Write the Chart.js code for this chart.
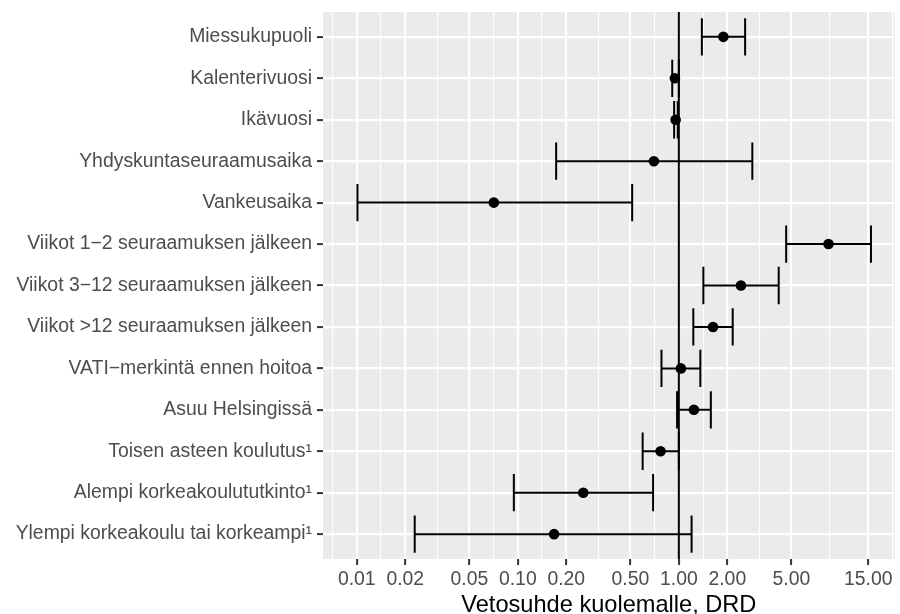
<!DOCTYPE html>
<html>
<head>
<meta charset="utf-8">
<script src="https://cdn.jsdelivr.net/npm/chart.js@4.4.1/dist/chart.umd.min.js"></script>
<style>
  html, body { margin: 0; padding: 0; background: #fff; }
  #wrap { width: 900px; height: 614px; }
</style>
</head>
<body>
<div id="wrap"><canvas id="forest" width="900" height="614"></canvas></div>
<script>
// categories, top to bottom
const labels = [
  "Miessukupuoli",
  "Kalenterivuosi",
  "Ikävuosi",
  "Yhdyskuntaseuraamusaika",
  "Vankeusaika",
  "Viikot 1\u22122 seuraamuksen jälkeen",
  "Viikot 3\u221212 seuraamuksen jälkeen",
  "Viikot >12 seuraamuksen jälkeen",
  "VATI\u2212merkintä ennen hoitoa",
  "Asuu Helsingissä",
  "Toisen asteen koulutus\u00B9",
  "Alempi korkeakoulututkinto\u00B9",
  "Ylempi korkeakoulu tai korkeampi\u00B9"
];

// odds ratios and confidence limits
const oddsRatio = [1.89, 0.945, 0.955, 0.70, 0.071, 8.50, 2.43, 1.63, 1.03, 1.24, 0.77, 0.255, 0.168];
const lower     = [1.39, 0.91, 0.935, 0.173, 0.0101, 4.64, 1.42, 1.23, 0.78, 0.975, 0.596, 0.0945, 0.0229];
const upper     = [2.58, 1.00, 0.985, 2.86, 0.513, 15.6, 4.17, 2.16, 1.36, 1.58, 1.00, 0.692, 1.20];

// x axis breaks
const tickValues = [0.01, 0.02, 0.05, 0.10, 0.20, 0.50, 1.00, 2.00, 5.00, 15.00];
const tickLabels = ["0.01", "0.02", "0.05", "0.10", "0.20", "0.50", "1.00", "2.00", "5.00", "15.00"];

const refValue = 1;

// minor gridlines halfway (in log space) between breaks, plus one beyond each end
const minorValues = [];
for (let i = 0; i <= tickValues.length; i++) {
  const a = i === 0 ? tickValues[0] * tickValues[0] / tickValues[1] : tickValues[i - 1];
  const b = i === tickValues.length ? tickValues[i - 1] * tickValues[1] / tickValues[0] : tickValues[i];
  minorValues.push(Math.sqrt(a * b));
}

const FONT = "'Liberation Sans', Arial, Helvetica, sans-serif";
const isMajor = v => tickValues.some(t => Math.abs(t - v) / t < 1e-6);

const panelBg = {
  id: "panelBg",
  beforeDraw(chart) {
    const { ctx, chartArea: a } = chart;
    ctx.save();
    ctx.fillStyle = "#EBEBEB";
    ctx.fillRect(a.left, a.top, a.right - a.left, a.bottom - a.top);
    ctx.restore();
  }
};

const errorBars = {
  id: "errorBars",
  beforeDatasetsDraw(chart) {
    const { ctx, chartArea: a, scales: { x, y } } = chart;
    ctx.save();
    ctx.strokeStyle = "#000";
    ctx.lineWidth = 2;

    // reference line at 1
    const rx = x.getPixelForValue(refValue);
    ctx.beginPath();
    ctx.moveTo(rx, a.top);
    ctx.lineTo(rx, a.bottom);
    ctx.stroke();

    labels.forEach((_, i) => {
      const yc = y.getPixelForValue(i + 1);
      const y0 = y.getPixelForValue(i + 1 - 0.45);
      const y1 = y.getPixelForValue(i + 1 + 0.45);
      const xl = x.getPixelForValue(lower[i]);
      const xu = x.getPixelForValue(upper[i]);
      ctx.beginPath();
      ctx.moveTo(xl, yc); ctx.lineTo(xu, yc);
      ctx.moveTo(xl, y0); ctx.lineTo(xl, y1);
      ctx.moveTo(xu, y0); ctx.lineTo(xu, y1);
      ctx.stroke();
    });
    ctx.restore();
  }
};

new Chart(document.getElementById("forest"), {
  type: "scatter",
  data: {
    datasets: [{
      data: oddsRatio.map((v, i) => ({ x: v, y: i + 1 })),
      backgroundColor: "#000",
      borderWidth: 0,
      pointRadius: 5.3,
      pointHoverRadius: 5.3
    }]
  },
  options: {
    responsive: false,
    devicePixelRatio: 1,
    animation: false,
    layout: { padding: { top: 12, right: 2, bottom: 0, left: 0 } },
    plugins: { legend: { display: false }, tooltip: { enabled: false } },
    scales: {
      x: {
        type: "logarithmic",
        min: 0.00617,
        max: 21.9,
        border: { display: false },
        grid: {
          color: "#FFFFFF",
          lineWidth: c => (c.tick && isMajor(c.tick.value) ? 2.2 : 1.1),
          tickColor: c => (c.tick && isMajor(c.tick.value) ? "#333333" : "rgba(0,0,0,0)"),
          tickLength: 6,
          tickWidth: 2
        },
        afterBuildTicks: s => {
          s.ticks = tickValues.concat(minorValues).sort((p, q) => p - q).map(v => ({ value: v }));
        },
        ticks: {
          autoSkip: false,
          maxRotation: 0,
          padding: 3,
          color: "#4D4D4D",
          font: { family: FONT, size: 19.4 },
          callback: v => {
            const k = tickValues.findIndex(t => Math.abs(t - v) / t < 1e-6);
            return k >= 0 ? tickLabels[k] : "";
          }
        },
        title: {
          display: true,
          text: "Vetosuhde kuolemalle, DRD",
          color: "#000",
          font: { family: FONT, size: 23.6, lineHeight: 1 },
          padding: { top: 2, bottom: -3.5 }
        },
        afterFit: s => {
          s.height = 55;
          s.paddingLeft = 0;
          s.paddingRight = 0;
        }
      },
      y: {
        type: "linear",
        reverse: true,
        min: 0.4,
        max: 13.6,
        border: { display: false },
        grid: {
          color: "#FFFFFF",
          lineWidth: 2.2,
          tickColor: "#333333",
          tickLength: 6,
          tickWidth: 2
        },
        afterBuildTicks: s => {
          s.ticks = labels.map((_, i) => ({ value: i + 1 }));
        },
        ticks: {
          autoSkip: false,
          padding: 5,
          color: "#4D4D4D",
          font: { family: FONT, size: 19.4 },
          callback: v => labels[Math.round(v) - 1]
        },
        afterFit: s => {
          s.width = 323;
          s.paddingTop = 0;
          s.paddingBottom = 0;
        }
      }
    }
  },
  plugins: [panelBg, errorBars]
});
</script>
</body>
</html>
